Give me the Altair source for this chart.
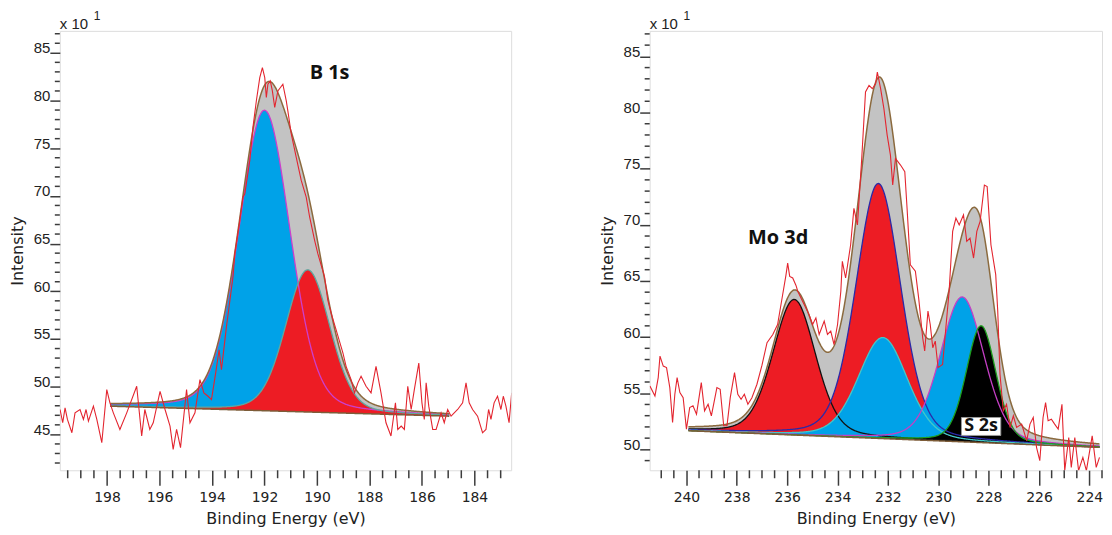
import altair as alt
import numpy as np
import pandas as pd

# ---------------- B 1s (left panel) ----------------
b1s_energy = [199.79, 199.69, 199.60, 199.51, 199.34, 199.22, 199.03, 198.90, 198.80, 198.71,
              198.52, 198.39, 198.20, 198.01, 197.89, 197.76, 197.51, 197.25, 196.87, 196.68,
              196.56, 196.37, 196.24, 195.98, 195.79, 195.60, 195.48, 195.35, 195.20, 194.97,
              194.84, 194.65, 194.46, 194.31, 194.15, 194.02, 193.86, 193.73, 193.64, 193.45,
              193.20, 193.13, 192.94, 192.82, 192.75, 192.56, 192.44, 192.31, 192.18, 192.08,
              191.99, 191.93, 191.87, 191.78, 191.70, 191.61, 191.49, 191.30, 191.17, 191.11,
              190.98, 190.79, 190.60, 190.41, 190.28, 190.09, 189.97, 189.71, 189.59, 189.46,
              189.27, 189.01, 188.89, 188.70, 188.57, 188.44, 188.32, 188.13, 187.94, 187.75,
              187.56, 187.37, 187.18, 187.01, 186.92, 186.79, 186.67, 186.54, 186.41, 186.29,
              186.12, 186.00, 185.91, 185.84, 185.74, 185.59, 185.46, 185.27, 185.15, 185.02,
              184.89, 184.77, 184.64, 184.45, 184.32, 184.20, 184.07, 183.88, 183.69, 183.56,
              183.46, 183.37, 183.25, 183.12, 182.99, 182.90, 182.80, 182.68, 182.58]
b1s_counts = [47.61, 46.22, 47.78, 46.57, 45.17, 47.26, 47.61, 46.57, 47.61, 46.39,
              47.96, 46.57, 44.13, 49.70, 48.31, 47.26, 45.52, 47.26, 50.05, 44.83,
              47.61, 45.52, 46.22, 49.52, 47.61, 45.87, 43.43, 45.52, 43.61, 49.70,
              46.22, 47.26, 50.74, 49.35, 49.00, 48.65, 51.44, 53.87, 51.78, 56.30,
              61.52, 63.97, 67.44, 69.88, 70.23, 73.71, 77.18, 79.97, 82.40, 83.44,
              82.40, 80.31, 81.71, 82.06, 81.01, 79.27, 81.01, 81.71, 79.97, 78.92,
              76.49, 74.05, 71.62, 69.88, 67.79, 65.35, 63.97, 61.52, 59.09, 57.70,
              55.96, 53.53, 52.13, 50.74, 49.35, 50.40, 51.09, 50.05, 49.35, 52.13,
              49.35, 46.22, 44.83, 48.31, 45.52, 45.87, 45.52, 50.05, 47.61, 49.70,
              52.48, 48.31, 46.57, 50.40, 47.96, 45.52, 45.52, 47.26, 46.22, 47.61,
              46.91, 47.26, 47.61, 48.31, 50.40, 48.31, 47.61, 46.91, 45.17, 45.52,
              47.61, 46.57, 48.31, 49.00, 47.61, 49.00, 47.96, 46.22, 49.35]
b1s_bg_energy = [197.89, 184.96]
b1s_bg_level = [47.96, 46.91]
b1s_centers = [192.00, 190.35]
b1s_fwhm = [2.30, 2.00]
b1s_heights = [31.5, 14.9]
b1s_gl_mix = 0.2
b1s_x_major = [198, 196, 194, 192, 190, 188, 186, 184]
b1s_y_major = [45, 50, 55, 60, 65, 70, 75, 80, 85]
b1s_label = ["B 1s"]
b1s_label_pos = [189.52, 82.9]

# ---------------- Mo 3d / S 2s (right panel) ----------------
mo_energy = [241.45, 241.25, 241.12, 241.05, 240.92, 240.79, 240.66, 240.55, 240.46, 240.37,
             240.26, 240.13, 240.00, 239.87, 239.74, 239.60, 239.41, 239.28, 239.14, 239.01,
             238.79, 238.66, 238.52, 238.39, 238.26, 238.09, 237.96, 237.83, 237.70, 237.56,
             237.40, 237.20, 237.00, 236.80, 236.57, 236.38, 236.20, 236.05, 235.98, 235.90,
             235.78, 235.65, 235.58, 235.39, 235.13, 234.99, 234.86, 234.73, 234.53, 234.40,
             234.27, 234.14, 234.00, 233.87, 233.81, 233.68, 233.48, 233.35, 233.21, 233.04,
             232.89, 232.75, 232.62, 232.49, 232.42, 232.29, 232.16, 232.03, 231.90, 231.81,
             231.70, 231.50, 231.33, 231.24, 231.11, 230.91, 230.78, 230.62, 230.54, 230.41,
             230.32, 230.22, 230.12, 230.01, 229.83, 229.70, 229.57, 229.43, 229.30, 229.17,
             229.00, 228.87, 228.74, 228.60, 228.47, 228.34, 228.17, 228.06, 227.91, 227.72,
             227.64, 227.55, 227.42, 227.29, 227.15, 227.02, 226.89, 226.69, 226.49, 226.36,
             226.23, 226.10, 225.97, 225.84, 225.74, 225.64, 225.51, 225.38, 225.24, 225.09,
             224.98, 224.82, 224.72, 224.58, 224.43, 224.26, 224.12, 223.89, 223.73, 223.60]
mo_counts = [55.65, 54.76, 56.39, 58.31, 57.42, 57.28, 55.50, 52.40, 54.91, 56.39,
             55.06, 54.61, 51.80, 53.73, 53.88, 53.13, 55.94, 53.43, 54.02, 52.99,
             55.50, 55.35, 52.10, 52.10, 54.61, 56.83, 54.91, 54.47, 54.91, 54.02,
             54.60, 55.80, 57.50, 59.50, 60.23, 61.12, 63.50, 65.50, 66.59, 65.40,
             65.26, 64.60, 64.08, 63.19, 62.00, 61.12, 61.71, 60.23, 61.42, 60.23,
             60.53, 59.34, 61.12, 64.08, 66.74, 65.26, 68.22, 71.47, 69.99, 75.91,
             81.83, 82.41, 82.12, 82.56, 83.60, 82.12, 80.35, 77.98, 76.20, 73.54,
             75.91, 75.32, 74.73, 71.47, 66.44, 65.86, 63.49, 59.94, 58.76, 62.31,
             61.12, 59.05, 59.64, 57.28, 57.57, 60.83, 64.08, 69.41, 70.59, 69.99,
             70.88, 68.52, 68.81, 67.04, 69.41, 70.29, 73.54, 73.40, 68.22, 65.56,
             62.31, 56.68, 53.43, 54.02, 51.95, 52.99, 51.95, 52.25, 50.77, 52.25,
             52.84, 50.18, 49.00, 52.84, 54.17, 52.55, 52.69, 52.25, 51.80, 54.02,
             48.11, 51.06, 48.40, 51.06, 48.11, 49.29, 48.11, 51.21, 48.40, 49.29]
mo_bg_energy = [239.93, 223.60]
mo_bg_level = [51.66, 50.18]
mo_centers = [235.72, 232.38, 232.20, 229.05, 228.30]
mo_fwhm = [2.00, 2.10, 2.30, 2.05, 1.40]
mo_heights = [12.07, 22.7, 9.0, 12.9, 10.4]
mo_gl_mix = 0.25
mo_x_major = [240, 238, 236, 234, 232, 230, 228, 226, 224]
mo_y_major = [50, 55, 60, 65, 70, 75, 80, 85]
mo_label = ["Mo 3d"]
mo_label_pos = [236.36, 68.8]
s2s_label = ["S 2s"]
s2s_label_pos = [228.30, 52.04]

# ---------------- styling ----------------
GRAY = "#c3c3c3"
BLUE = "#00a2e8"
RED = "#ed1c24"
BLACK = "#000000"
RAW = "#e3252f"
ENV = "#8b6a3e"
BGC = "#7d5c38"
AXC = "#3c3c3c"
LABEL_FONT = "Liberation Sans"
XFONT = "DejaVu Sans"
TFONT = "Open Sans"


def gl(e, c, w, h, m):
    d2 = 4.0 * (e - c) ** 2 / w ** 2
    return h * ((1 - m) * np.exp(-np.log(2) * d2) + m / (1 + d2))


def model_frame(bg_e, bg_v, centers, fwhm, heights, mix):
    e = np.round(np.arange(min(bg_e), max(bg_e) + 1e-9, 0.02), 3)
    bg = np.interp(e, sorted(bg_e), [v for _, v in sorted(zip(bg_e, bg_v))])
    df = pd.DataFrame({"E": e, "bg": bg})
    total = bg.copy()
    for i, (c, w, h) in enumerate(zip(centers, fwhm, heights)):
        comp = gl(e, c, w, h, mix)
        df[f"c{i}"] = bg + comp
        total = total + comp
    df["env"] = total
    return df


def panel(raw_e, raw_v, mdf, fills, outlines, xdom, ydom, xmajor, ymajor,
          width, height, texts):
    x_minor = [round(v, 1) for v in np.arange(np.ceil(xdom[0] * 2) / 2, xdom[1] + 1e-9, 0.5)
               if round(v, 1) not in xmajor]
    y_minor = [v for v in range(int(np.ceil(ydom[0])), int(np.floor(ydom[1])) + 1) if v not in ymajor]
    xaxis = alt.Axis(values=xmajor, format="d", tickSize=15,
                     tickColor=AXC, tickWidth=1.5, domain=False, grid=False,
                     labelFont=XFONT, labelFontSize=14, labelColor="#222", labelPadding=5,
                     labelFlush=False, labelOverlap=False,
                     titleFont=XFONT, titleFontSize=16, titleFontWeight="normal",
                     titleColor="#222", titlePadding=6)
    yaxis = alt.Axis(values=ymajor, format="d", tickSize=10,
                     tickColor=AXC, tickWidth=1.5, domain=False, grid=False,
                     labelFont=LABEL_FONT, labelFontSize=15, labelColor="#222", labelPadding=0,
                     labelBaseline="alphabetic", labelFlush=False, labelOverlap=False,
                     titleFont=XFONT, titleFontSize=16, titleFontWeight="normal",
                     titleColor="#222", titlePadding=8)
    xs = alt.Scale(domain=list(xdom), reverse=True, nice=False, zero=False)
    ys = alt.Scale(domain=list(ydom), nice=False, zero=False)

    def X(f="E"):
        return alt.X(f"{f}:Q", scale=xs, axis=xaxis, title="Binding Energy (eV)")

    def Y(f):
        return alt.Y(f"{f}:Q", scale=ys, axis=yaxis, title="Intensity")

    layers = []
    base = alt.Chart(mdf)
    layers.append(base.mark_area(color=GRAY, opacity=1).encode(x=X(), y=Y("env"), y2="bg:Q"))
    for col, colr in fills:
        layers.append(base.mark_area(color=colr, opacity=1).encode(x=X(), y=Y(col), y2="bg:Q"))
    for col, colr in outlines:
        layers.append(base.mark_line(color=colr, strokeWidth=1.3).encode(x=X(), y=Y(col)))
    layers.append(base.mark_line(color=ENV, strokeWidth=1.5).encode(x=X(), y=Y("env")))
    layers.append(base.mark_line(color=BGC, strokeWidth=1.5).encode(x=X(), y=Y("bg")))
    raw = pd.DataFrame({"E": raw_e, "I": raw_v})
    layers.append(alt.Chart(raw).mark_line(color=RAW, strokeWidth=1.1, clip=True)
                  .encode(x=X(), y=Y("I")))
    layers.extend(texts(X, Y))
    # minor ticks
    layers.append(alt.Chart(pd.DataFrame({"E": x_minor})).mark_rule(color=AXC, strokeWidth=1.5)
                  .encode(x=X(), y=alt.value(height), y2=alt.value(height + 8)))
    layers.append(alt.Chart(pd.DataFrame({"v": y_minor})).mark_rule(color=AXC, strokeWidth=1.5)
                  .encode(y=Y("v"), x=alt.value(0), x2=alt.value(-5)))
    # exponent label
    layers.append(alt.Chart(pd.DataFrame({"t": ["x 10"]})).mark_text(
        align="left", baseline="alphabetic", font=LABEL_FONT, fontSize=15, color="#222")
        .encode(text="t:N", x=alt.value(0), y=alt.value(-2)))
    layers.append(alt.Chart(pd.DataFrame({"t": ["1"]})).mark_text(
        align="left", baseline="alphabetic", font=LABEL_FONT, fontSize=12, color="#222")
        .encode(text="t:N", x=alt.value(34), y=alt.value(-11)))
    return alt.layer(*layers).properties(width=width, height=height)


b1s_df = model_frame(b1s_bg_energy, b1s_bg_level, b1s_centers, b1s_fwhm, b1s_heights, b1s_gl_mix)
mo_df = model_frame(mo_bg_energy, mo_bg_level, mo_centers, mo_fwhm, mo_heights, mo_gl_mix)


def b1s_texts(X, Y):
    d = pd.DataFrame({"E": [b1s_label_pos[0]], "v": [b1s_label_pos[1]], "t": b1s_label})
    return [alt.Chart(d).mark_text(font=TFONT, fontWeight="bold", fontSize=20, color="#111")
            .encode(x=X(), y=Y("v"), text="t:N")]


def mo_texts(X, Y):
    d1 = pd.DataFrame({"E": [mo_label_pos[0]], "v": [mo_label_pos[1]], "t": mo_label})
    d2 = pd.DataFrame({"E": [s2s_label_pos[0] + 0.78], "E2": [s2s_label_pos[0] - 0.78],
                       "v": [s2s_label_pos[1] + 0.8], "v2": [s2s_label_pos[1] - 0.8]})
    d3 = pd.DataFrame({"E": [s2s_label_pos[0]], "v": [s2s_label_pos[1]], "t": s2s_label})
    return [
        alt.Chart(d1).mark_text(font=TFONT, fontWeight="bold", fontSize=20, color="#111")
        .encode(x=X(), y=Y("v"), text="t:N"),
        alt.Chart(d2).mark_rect(fill="white", stroke="#9a9a9a", strokeWidth=1)
        .encode(x=X(), x2="E2:Q", y=Y("v"), y2="v2:Q"),
        alt.Chart(d3).mark_text(font=TFONT, fontWeight="bold", fontSize=18, color="#111")
        .encode(x=X(), y=Y("v"), text="t:N"),
    ]


left = panel(b1s_energy, b1s_counts, b1s_df,
             fills=[("c0", BLUE), ("c1", RED)],
             outlines=[("c0", "#cc3fcc"), ("c1", "#5fa8a0")],
             xdom=(182.6, 199.8), ydom=(41.24, 87.3), xmajor=b1s_x_major, ymajor=b1s_y_major,
             width=453, height=441, texts=b1s_texts)

right = panel(mo_energy, mo_counts, mo_df,
              fills=[("c0", RED), ("c1", RED), ("c2", BLUE), ("c3", BLUE), ("c4", BLACK)],
              outlines=[("c0", "#111111"), ("c1", "#2a2aa8"), ("c2", "#44c8c8"),
                        ("c3", "#c53fc5"), ("c4", "#1e9e1e")],
              xdom=(223.5, 241.46), ydom=(48.14, 87.27), xmajor=mo_x_major, ymajor=mo_y_major,
              width=454, height=441, texts=mo_texts)

chart = alt.hconcat(left, right, spacing=86).properties(
    padding={"left": 0, "top": 0, "right": 0, "bottom": 0}
).configure_view(stroke="#505050", strokeWidth=2).configure(background="white")

chart.save("out.html", embed_options={"renderer": "svg", "actions": False})
